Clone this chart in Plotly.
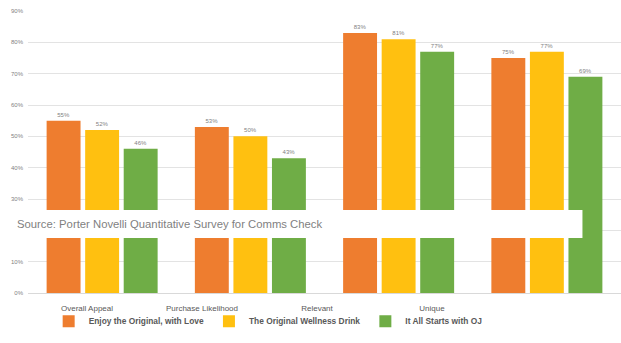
import plotly.graph_objects as go

categories = ["Overall Appeal", "Purchase Likelihood", "Relevant", "Unique"]
series_names = ["Enjoy the Original, with Love", "The Original Wellness Drink", "It All Starts with OJ"]
enjoy = [55, 53, 83, 75]
wellness = [52, 50, 81, 77]
starts = [46, 43, 77, 69]
tick_vals = [0, 10, 20, 30, 40, 50, 60, 70, 80, 90]
tick_text = ["0%", "10%", "20%", "30%", "40%", "50%", "60%", "70%", "80%", "90%"]
source_text = "Source: Porter Novelli Quantitative Survey for Comms Check"

colors = ["#EE7D2F", "#FFC010", "#6FAD46"]
series_values = [enjoy, wellness, starts]

fig = go.Figure()
for name, vals, col in zip(series_names, series_values, colors):
    fig.add_trace(go.Bar(
        x=categories, y=vals, name=name,
        marker=dict(color=col, line=dict(width=0)),
        text=[f"{v}%" for v in vals], textposition="outside",
        textfont=dict(size=6, color="#7F7F7F", family="Liberation Sans"),
        cliponaxis=False,
    ))

# invisible trace to carry the (shifted) category labels on a second axis
fig.add_trace(go.Scatter(x=categories, y=[0]*4, xaxis="x2", mode="markers",
                         marker=dict(opacity=0), showlegend=False, hoverinfo="skip"))

fig.update_layout(
    width=621, height=343,
    margin=dict(l=28, r=0, t=11, b=50),
    paper_bgcolor="white", plot_bgcolor="white",
    barmode="group", bargap=0.22, bargroupgap=0.12,
    font=dict(family="Liberation Sans", color="#595959"),
    xaxis=dict(showticklabels=False, showgrid=False, showline=True,
               linecolor="#D9D9D9", linewidth=1, ticks=""),
    xaxis2=dict(overlaying="x", anchor="y", range=[-0.513, 4.644],
                showgrid=False, showline=False, ticks="outside", ticklen=7,
                tickcolor="rgba(0,0,0,0)",
                tickfont=dict(size=8, color="#595959", family="Liberation Sans"),
                side="bottom", fixedrange=True),
    yaxis=dict(range=[0, 90], tickvals=tick_vals, ticktext=tick_text,
               tickfont=dict(size=6, color="#7F7F7F"),
               showgrid=True, gridcolor="#E3E3E3", gridwidth=1,
               zeroline=False, showline=False, ticklabelstandoff=4),
    legend=dict(orientation="h", x=0.405, xanchor="center",
                y=-0.1, yanchor="middle", bgcolor="rgba(0,0,0,0)",
                font=dict(size=8.4, color="#595959", family="Liberation Sans", weight="bold"),
                itemwidth=30, traceorder="normal", tracegroupgap=0),
    showlegend=True,
)

fig.add_shape(type="rect", xref="paper", yref="paper", layer="above",
              x0=-0.06, x1=0.935, y0=0.195, y1=0.294,
              fillcolor="white", line=dict(width=0))
fig.add_annotation(text=source_text, xref="paper", yref="paper",
                   x=-0.022, y=0.245, xanchor="left", yanchor="middle",
                   showarrow=False, font=dict(size=11.3, color="#7F7F7F", family="Liberation Sans"))

fig.write_html("out.html")
